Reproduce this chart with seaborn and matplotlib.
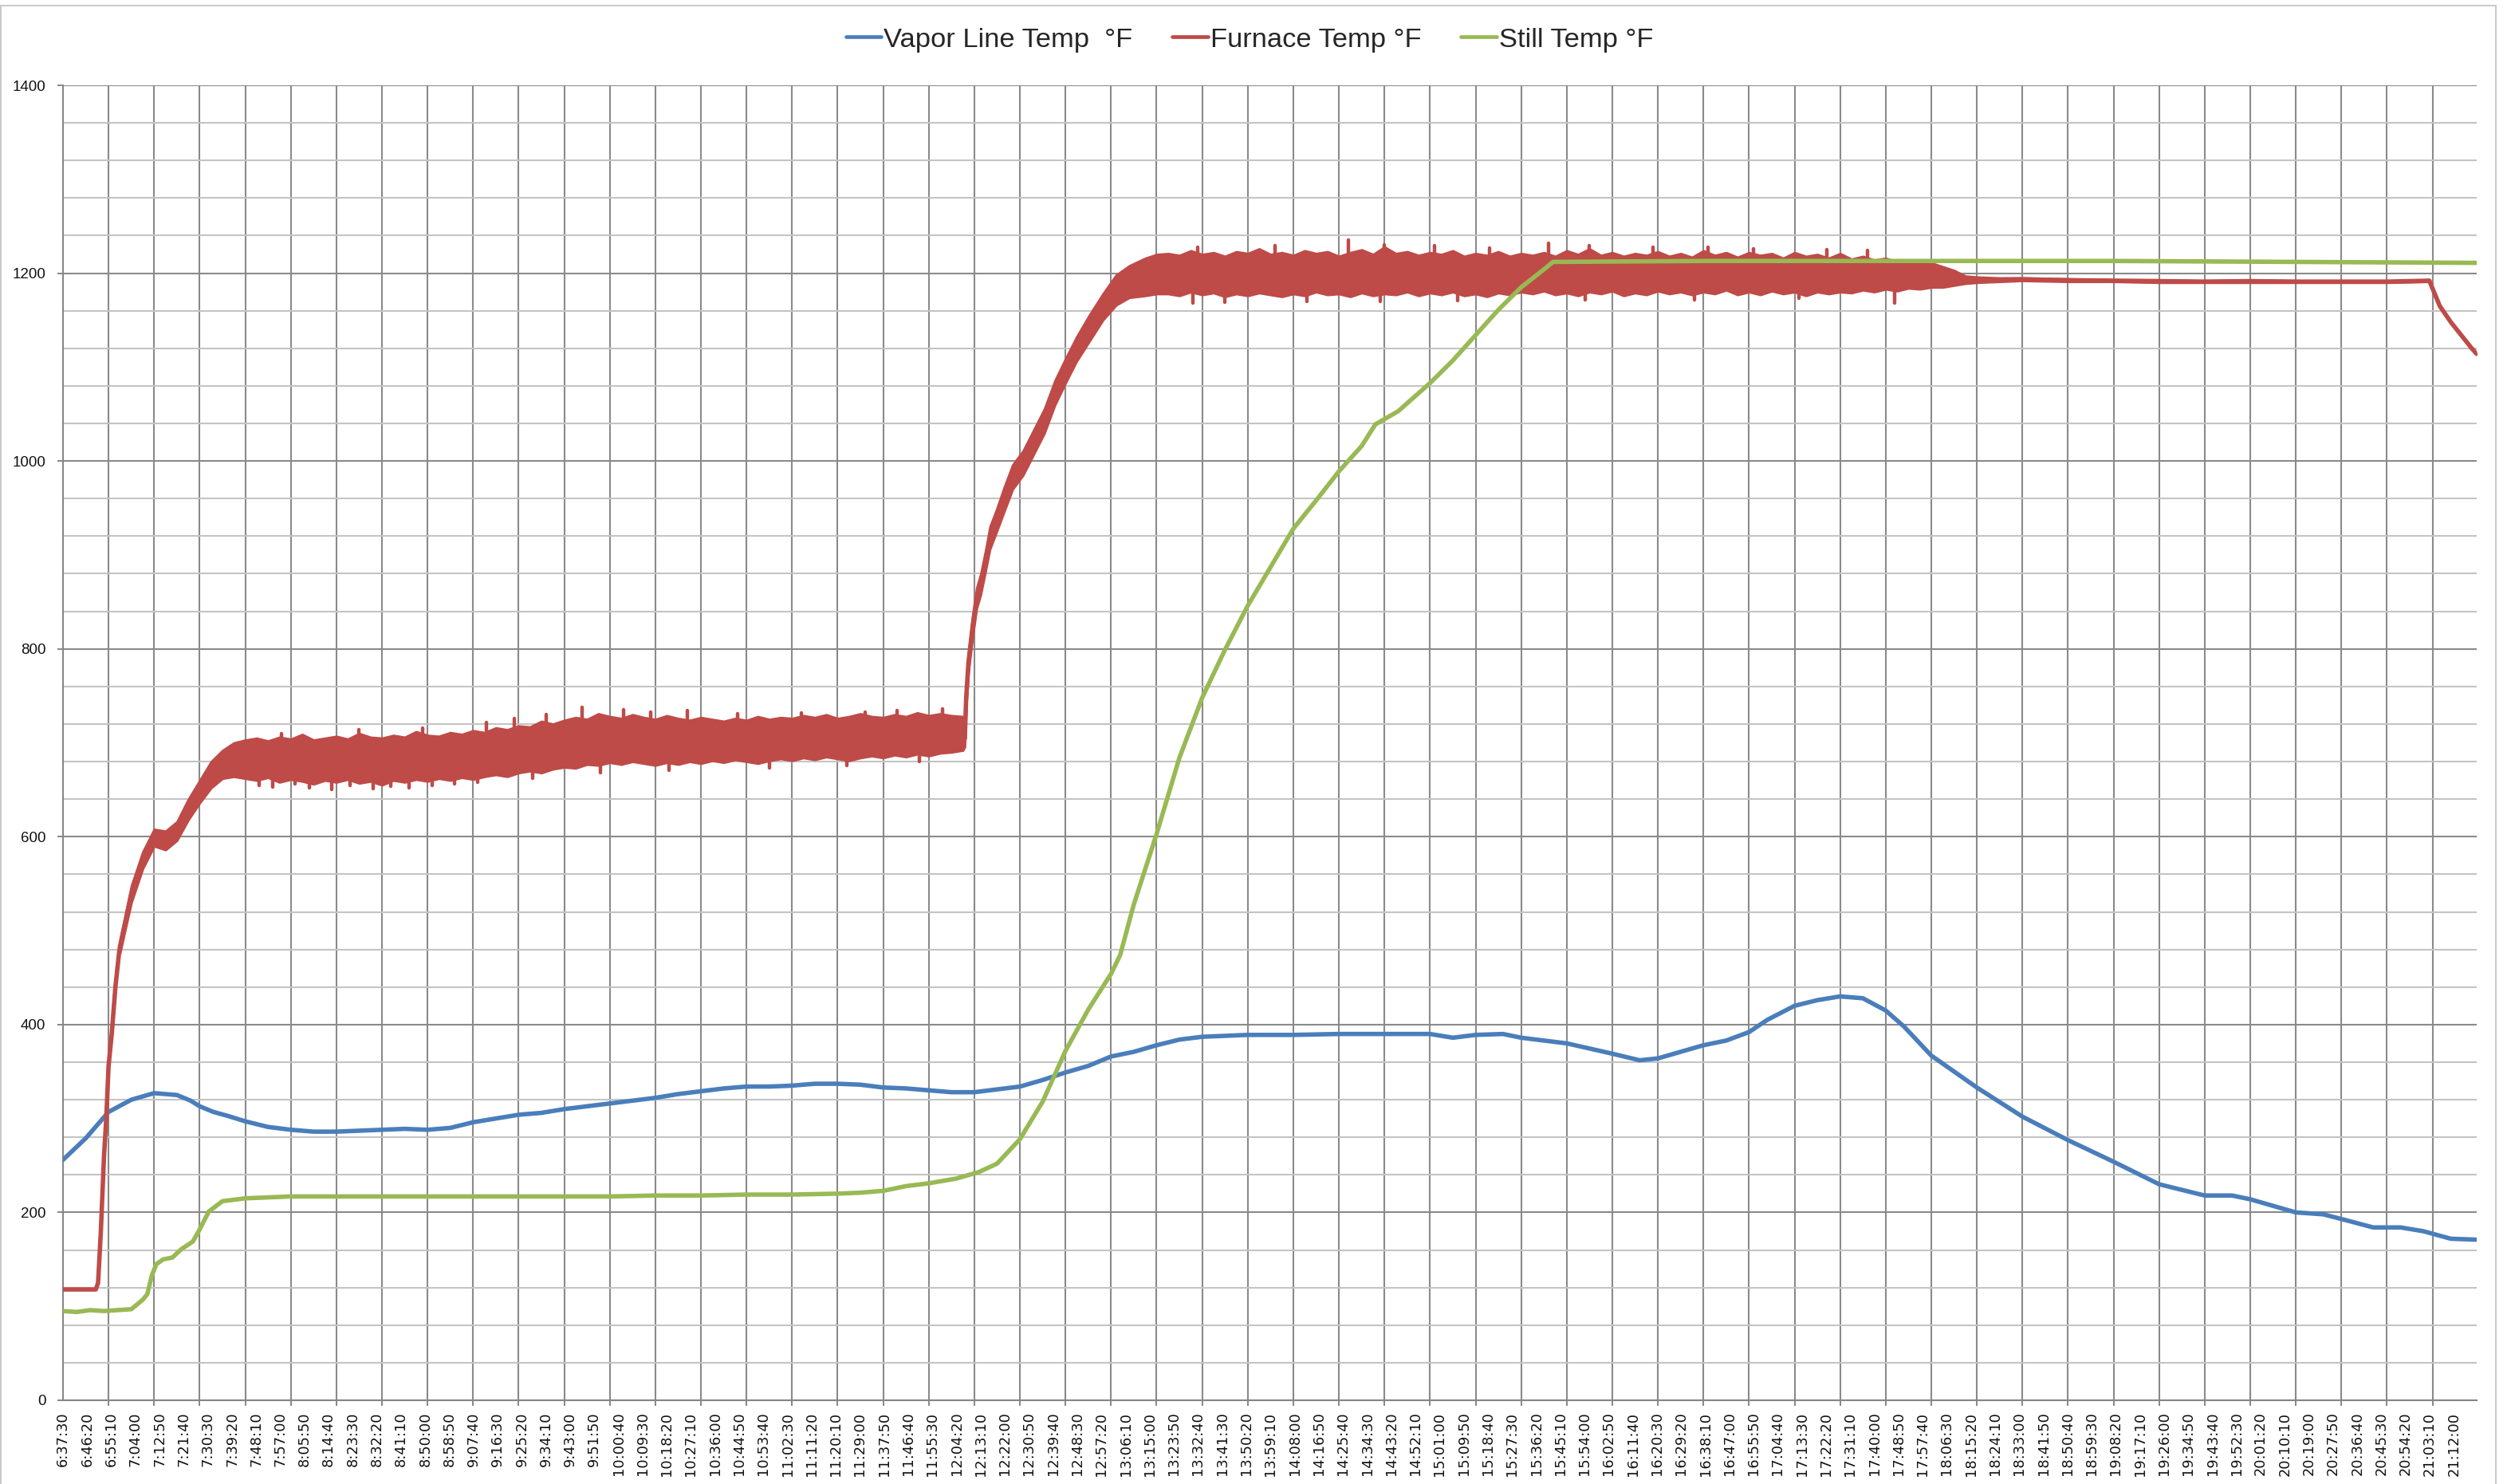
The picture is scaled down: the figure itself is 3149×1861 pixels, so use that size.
import numpy as np
import pandas as pd
import matplotlib
matplotlib.use("Agg")
import matplotlib.pyplot as plt
from matplotlib.ticker import FixedLocator, MultipleLocator
from matplotlib.lines import Line2D
from matplotlib.font_manager import FontProperties
import seaborn as sns

# ---------------------------------------------------------------------------
# Run log: seconds elapsed since the first reading (6:37:30), temperatures in °F
# ---------------------------------------------------------------------------
END_S = 52970

SERIES = ["Vapor Line Temp  °F", "Furnace Temp °F", "Still Temp °F"]
COLORS = ["#4A7EBB", "#BE4B48", "#98B954"]

# Vapor line temperature
vapor_t = [0, 500, 1000, 1500, 2000, 2500, 2800, 3000, 3300, 3600, 4000, 4500,
           5000, 5500, 6000, 6500, 7000, 7500, 8000, 8500, 9000, 9500, 10000,
           10500, 11000, 11500, 12000, 12500, 13000, 13500, 14000, 14500, 15000,
           15500, 16000, 16500, 17000, 17500, 18000, 18500, 19000, 19500, 20000,
           20500, 21000, 21500, 22000, 22500, 23000, 23500, 24000, 24500, 25000,
           26000, 27000, 28000, 29000, 30000, 30500, 31000, 31600, 32000, 33000,
           34000, 34600, 35000, 35500, 36000, 36500, 37000, 37400, 38000, 38500,
           39000, 39500, 40000, 40400, 41000, 42000, 43000, 44000, 45000, 46000,
           47000, 47600, 48000, 49000, 49600, 50000, 50700, 51300, 51800, 52400,
           52970]
vapor_f = [256, 279, 307, 320, 327, 325, 319, 313, 307, 303, 297, 291,
           288, 286, 286, 287, 288, 289, 288, 290, 296, 300, 304,
           306, 310, 313, 316, 319, 322, 326, 329, 332, 334,
           334, 335, 337, 337, 336, 333, 332, 330, 328, 328,
           331, 334, 341, 349, 356, 366, 371, 378, 384, 387,
           389, 389, 390, 390, 390, 386, 389, 390, 386, 380,
           369, 362, 364, 371, 378, 383, 392, 405, 420, 426,
           430, 428, 415, 398, 367, 333, 302, 277, 254, 230,
           218, 218, 214, 200, 198, 193, 184, 184, 180, 172,
           171]

# Still temperature
still_t = [0, 300, 600, 900, 1200, 1500, 1750, 1850, 1950, 2050, 2200, 2400,
           2600, 2850, 3000, 3200, 3500, 4000, 5000, 6000, 7000, 8000, 9000,
           10000, 11000, 12000, 13000, 14000, 15000, 16000, 17000, 17500, 18000,
           18500, 19000, 19600, 20100, 20500, 21000, 21500, 22000, 22500, 23000,
           23200, 23500, 24000, 24500, 25000, 25500, 26000, 26500, 27000, 27500,
           28000, 28500, 28800, 29300, 30000, 30500, 31000, 31500, 32000, 32500,
           32700, 36000, 45000, 52970]
still_f = [95, 94, 96, 95, 96, 97, 107, 113, 133, 145, 150, 152,
           161, 169, 182, 201, 212, 215, 217, 217, 217, 217, 217,
           217, 217, 217, 218, 218, 219, 219, 220, 221, 223,
           228, 231, 236, 243, 252, 278, 318, 372, 416, 454,
           474, 528, 603, 684, 748, 799, 846, 887, 928, 958,
           989, 1016, 1039, 1053, 1083, 1107, 1134, 1161, 1185, 1204,
           1212, 1213, 1213, 1211]

# Furnace temperature: low / high of the readings around each time stamp
furnace_start_t = [0, 720, 770, 830, 900, 950, 1000, 1070, 1150, 1230]
furnace_start_f = [118, 118, 125, 179, 260, 300, 356, 390, 440, 476]

furnace_ramp1_t = [1250, 1500, 1750, 2000, 2250, 2500, 2750, 3000, 3250, 3500, 3750]
furnace_ramp1_lo = [476, 530, 566, 590, 586, 596, 618, 636, 652, 662, 664]
furnace_ramp1_hi = [490, 548, 584, 608, 606, 616, 640, 660, 680, 692, 700]

furnace_hold1_t = [4000, 4250, 4500, 4750, 5000, 5250, 5500, 5750,
                   6000, 6250, 6500, 6750, 7000, 7250, 7500, 7750,
                   8000, 8250, 8500, 8750, 9000, 9250, 9500, 9750,
                   10000, 10250, 10500, 10750, 11000, 11250, 11500, 11750,
                   12000, 12250, 12500, 12750, 13000, 13250, 13500, 13750,
                   14000, 14250, 14500, 14750, 15000, 15250, 15500, 15750,
                   16000, 16250, 16500, 16750, 17000, 17250, 17500, 17750,
                   18000, 18250, 18500, 18750, 19000, 19250, 19500, 19750]
furnace_hold1_hi = [703, 705, 702, 706, 704, 709, 703, 705,
                    707, 704, 710, 706, 705, 708, 706, 712,
                    708, 707, 711, 709, 713, 711, 716, 714,
                    718, 717, 723, 720, 724, 727, 725, 731,
                    728, 726, 730, 727, 725, 729, 726, 724,
                    727, 725, 723, 726, 724, 728, 725, 727,
                    726, 729, 727, 730, 726, 728, 731, 728,
                    727, 730, 728, 732, 729, 731, 729, 728]
furnace_hold1_lo = [662, 660, 663, 658, 661, 659, 656, 660,
                    658, 661, 657, 659, 655, 660, 658, 661,
                    659, 662, 660, 663, 661, 664, 666, 664,
                    668, 670, 668, 672, 674, 673, 677, 676,
                    679, 677, 680, 678, 676, 679, 677, 680,
                    678, 681, 679, 682, 680, 678, 681, 683,
                    681, 684, 682, 685, 683, 681, 684, 686,
                    684, 687, 685, 688, 686, 689, 690, 692]

furnace_ramp2_t = [19790, 19820, 19870, 19960, 20050, 20140, 20250, 20340,
                   20490, 20660, 20840, 21070, 21300, 21540, 21770, 22000,
                   22240, 22530, 22820, 23110, 23400, 23750, 24000]
furnace_ramp2_lo = [696, 738, 775, 812, 843, 858, 884, 906,
                    925, 947, 970, 985, 1007, 1030, 1060, 1083,
                    1106, 1128, 1150, 1166, 1174, 1176, 1178]
furnace_ramp2_hi = [712, 756, 795, 834, 865, 880, 906, 930,
                    949, 973, 996, 1011, 1033, 1056, 1086, 1109,
                    1132, 1156, 1178, 1198, 1208, 1216, 1220]

furnace_hold2_t = [24250, 24500, 24750, 25000, 25250, 25500, 25750, 26000, 26250, 26500,
                   26750, 27000, 27250, 27500, 27750, 28000, 28250, 28500, 28750, 29000,
                   29250, 29500, 29750, 30000, 30250, 30500, 30750, 31000, 31250, 31500,
                   31750, 32000, 32250, 32500, 32750, 33000, 33250, 33500, 33750, 34000,
                   34250, 34500, 34750, 35000, 35250, 35500, 35750, 36000, 36250, 36500,
                   36750, 37000, 37250, 37500, 37750, 38000, 38250, 38500, 38750, 39000,
                   39250, 39500, 39750, 40000, 40250, 40500, 40750, 41000, 41250, 41500]
furnace_hold2_hi = [1221, 1219, 1224, 1220, 1222, 1218, 1223, 1221, 1226, 1220,
                    1222, 1219, 1224, 1221, 1223, 1218, 1222, 1225, 1220, 1228,
                    1221, 1223, 1219, 1222, 1220, 1224, 1218, 1221, 1219, 1223,
                    1218, 1221, 1219, 1222, 1218, 1224, 1220, 1226, 1219, 1222,
                    1218, 1221, 1219, 1223, 1218, 1221, 1217, 1224, 1219, 1222,
                    1217, 1222, 1219, 1221, 1216, 1222, 1218, 1220, 1216, 1221,
                    1215, 1218, 1214, 1216, 1212, 1214, 1210, 1211, 1207, 1203]
furnace_hold2_lo = [1178, 1176, 1180, 1177, 1179, 1175, 1178, 1176, 1179, 1177,
                    1175, 1178, 1176, 1180, 1177, 1178, 1175, 1179, 1176, 1178,
                    1177, 1180, 1176, 1179, 1177, 1180, 1176, 1178, 1175, 1179,
                    1177, 1180, 1178, 1181, 1177, 1179, 1176, 1180, 1178, 1181,
                    1176, 1179, 1177, 1181, 1178, 1180, 1177, 1180, 1178, 1182,
                    1177, 1180, 1177, 1181, 1178, 1180, 1176, 1180, 1178, 1180,
                    1179, 1182, 1180, 1183, 1181, 1184, 1183, 1185, 1185, 1187]

furnace_end_t = [41750, 42000, 42500, 43000, 44000, 45000, 46000, 47000, 48000,
                 49000, 50000, 51000, 51930, 52160, 52400, 52630, 52860, 52970]
furnace_end_lo = [1189, 1190, 1191, 1192, 1191, 1191, 1190, 1190, 1190,
                  1190, 1190, 1190, 1191, 1165, 1148, 1134, 1120, 1114]
furnace_end_hi = [1197, 1196, 1195, 1195, 1194, 1193, 1193, 1192, 1193,
                  1192, 1192, 1192, 1193, 1165, 1148, 1134, 1120, 1114]

# Individual outlying furnace readings: time, band value, reading
furnace_spike_t = [4300, 4600, 5100, 5400, 5900, 6300, 6800, 7200, 7600, 8100,
                   8600, 9100, 10300, 11800, 13300, 15500, 17200, 18800,
                   4800, 6500, 7900, 9300, 9900, 10600, 11400, 12300, 12900,
                   13700, 14800, 16200, 17600, 18300, 19300,
                   24800, 25500, 27300, 28900, 30600, 33400, 35800, 38100, 40200,
                   24900, 26600, 28200, 29000, 30100, 31300, 32600, 33500, 34900,
                   36100, 37100, 38700, 39600]
furnace_spike_base = [683, 683, 683, 683, 684, 684, 684, 684, 685, 686,
                      686, 688, 694, 701, 703, 704, 705, 707,
                      683, 684, 686, 690, 692, 696, 700, 703, 703,
                      703, 703, 705, 706, 707, 708,
                      1199, 1199, 1199, 1199, 1199, 1199, 1199, 1199, 1197,
                      1199, 1199, 1199, 1199, 1199, 1199, 1199, 1199, 1199,
                      1199, 1199, 1199, 1198]
furnace_spike_f = [655, 653, 656, 652, 650, 655, 651, 654, 652, 655,
                   656, 658, 662, 668, 671, 673, 676, 680,
                   710, 714, 716, 722, 726, 730, 738, 735, 733,
                   734, 731, 732, 733, 734, 736,
                   1168, 1169, 1170, 1170, 1171, 1172, 1172, 1173, 1168,
                   1228, 1229, 1235, 1230, 1229, 1227, 1232, 1229, 1228,
                   1228, 1226, 1225, 1224]

# Category labels along the time axis (one every 530 s)
time_labels = [
    "6:37:30", "6:46:20", "6:55:10", "7:04:00", "7:12:50", "7:21:40", "7:30:30", "7:39:20", "7:48:10", "7:57:00",
    "8:05:50", "8:14:40", "8:23:30", "8:32:20", "8:41:10", "8:50:00", "8:58:50", "9:07:40", "9:16:30", "9:25:20",
    "9:34:10", "9:43:00", "9:51:50", "10:00:40", "10:09:30", "10:18:20", "10:27:10", "10:36:00", "10:44:50", "10:53:40",
    "11:02:30", "11:11:20", "11:20:10", "11:29:00", "11:37:50", "11:46:40", "11:55:30", "12:04:20", "12:13:10", "12:22:00",
    "12:30:50", "12:39:40", "12:48:30", "12:57:20", "13:06:10", "13:15:00", "13:23:50", "13:32:40", "13:41:30", "13:50:20",
    "13:59:10", "14:08:00", "14:16:50", "14:25:40", "14:34:30", "14:43:20", "14:52:10", "15:01:00", "15:09:50", "15:18:40",
    "15:27:30", "15:36:20", "15:45:10", "15:54:00", "16:02:50", "16:11:40", "16:20:30", "16:29:20", "16:38:10", "16:47:00",
    "16:55:50", "17:04:40", "17:13:30", "17:22:20", "17:31:10", "17:40:00", "17:48:50", "17:57:40", "18:06:30", "18:15:20",
    "18:24:10", "18:33:00", "18:41:50", "18:50:40", "18:59:30", "19:08:20", "19:17:10", "19:26:00", "19:34:50", "19:43:40",
    "19:52:30", "20:01:20", "20:10:10", "20:19:00", "20:27:50", "20:36:40", "20:45:30", "20:54:20", "21:03:10", "21:12:00",
]
LABEL_STEP_S = 530
GRID_STEP_S = 1000

# ---------------------------------------------------------------------------
furnace_t = (furnace_start_t + furnace_ramp1_t + furnace_hold1_t +
             furnace_ramp2_t + furnace_hold2_t + furnace_end_t)
furnace_lo = np.array(furnace_start_f + furnace_ramp1_lo + furnace_hold1_lo +
                      furnace_ramp2_lo + furnace_hold2_lo + furnace_end_lo, float)
furnace_hi = np.array(furnace_start_f + furnace_ramp1_hi + furnace_hold1_hi +
                      furnace_ramp2_hi + furnace_hold2_hi + furnace_end_hi, float)
furnace_mid = (furnace_lo + furnace_hi) / 2.0

df = pd.concat([
    pd.DataFrame({"t": vapor_t, "temp": vapor_f, "series": SERIES[0]}),
    pd.DataFrame({"t": furnace_t, "temp": furnace_mid, "series": SERIES[1]}),
    pd.DataFrame({"t": still_t, "temp": still_f, "series": SERIES[2]}),
], ignore_index=True)

sns.set_style("white")
plt.rcParams["font.family"] = ["DejaVu Sans"]

W, H = 3149, 1861
fig = plt.figure(figsize=(W / 100, H / 100), dpi=100)
ax = fig.add_axes([79 / W, 1 - 1756 / H, (3106 - 79) / W, (1756 - 107) / H])

LW = 4.0
sns.lineplot(data=df, x="t", y="temp", hue="series", hue_order=SERIES,
             palette=dict(zip(SERIES, COLORS)), linewidth=LW, legend=False,
             estimator=None, sort=False, ax=ax,
             solid_capstyle="round", solid_joinstyle="round")
for z, line in zip([3, 4, 6], ax.get_lines()):
    line.set_zorder(z)

# reading-to-reading scatter of the furnace thermocouple
ax.fill_between(furnace_t, furnace_lo, furnace_hi, color=COLORS[1],
                edgecolor=COLORS[1], linewidth=2.0, zorder=5)
ax.vlines(furnace_spike_t, furnace_spike_base, furnace_spike_f,
          color=COLORS[1], linewidth=3.2, zorder=5, capstyle="round")

ax.set_xlim(0, END_S)
ax.set_ylim(0, 1400)

# x axis: labels every 530 s, grid / tick marks every 1000 s
label_pos = [LABEL_STEP_S * i for i in range(len(time_labels))]
ax.xaxis.set_major_locator(FixedLocator(label_pos))
ax.set_xticklabels(time_labels, rotation=90, fontsize=12.8,
                   fontfamily="DejaVu Sans", color="#111111")
ax.xaxis.set_minor_locator(MultipleLocator(GRID_STEP_S))
ax.tick_params(axis="x", which="major", length=0, pad=10.5)
ax.tick_params(axis="x", which="minor", length=5, width=1.4,
               color="#868686", direction="out", bottom=True)

# y axis
ax.yaxis.set_major_locator(MultipleLocator(200))
ax.yaxis.set_minor_locator(MultipleLocator(40))
ax.tick_params(axis="y", which="major", length=5, width=1.4, color="#868686",
               direction="out", left=True, pad=10.5, labelsize=13.5,
               labelcolor="#111111")
ax.tick_params(axis="y", which="minor", length=0)
for lab in ax.get_yticklabels():
    lab.set_fontfamily("Liberation Sans")

ax.set_axisbelow(True)
ax.grid(True, axis="x", which="minor", color="#8a8a8a", linewidth=1.5)
ax.grid(False, axis="x", which="major")
ax.grid(True, axis="y", which="major", color="#8a8a8a", linewidth=1.5)
ax.grid(True, axis="y", which="minor", color="#c4c4c4", linewidth=1.5)

for side in ["top", "right"]:
    ax.spines[side].set_visible(False)
for side in ["left", "bottom"]:
    ax.spines[side].set_color("#868686")
    ax.spines[side].set_linewidth(1.5)
    ax.spines[side].set_zorder(2.5)

ax.set_xlabel("")
ax.set_ylabel("")

# legend along the top
handles = [Line2D([0], [0], color=c, lw=3.4, solid_capstyle="round") for c in COLORS]
fig.legend(handles, SERIES, loc="center", bbox_to_anchor=(1567 / W, 1 - 50 / H),
           ncol=3, frameon=False, handlelength=1.3, handletextpad=0.08,
           columnspacing=1.45,
           prop=FontProperties(family="Liberation Sans", size=24.8))

# chart-area frame
frame_kw = dict(color="#c8c8c8", linewidth=1.4, transform=fig.transFigure)
fig.add_artist(Line2D([1 / W, 3130 / W], [1 - 7 / H, 1 - 7 / H], **frame_kw))
fig.add_artist(Line2D([1 / W, 1 / W], [0, 1 - 7 / H], **frame_kw))
fig.add_artist(Line2D([3130 / W, 3130 / W], [0, 1 - 7 / H], **frame_kw))

fig.savefig("out.png", dpi=100, facecolor="white")
